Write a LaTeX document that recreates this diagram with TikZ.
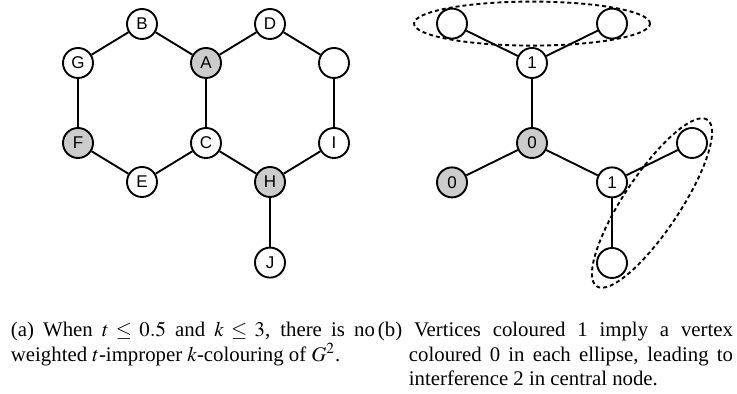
\documentclass[tikz,border=0pt]{standalone}
\usepackage{mathptmx}
\usepackage{fontspec}
\setmainfont{Liberation Serif}
\setsansfont{Liberation Sans}
\usetikzlibrary{positioning,calc}
\setlength{\parindent}{0pt}

\begin{document}
\begin{tikzpicture}[x=0.5pt, y=0.5pt, line width=0.95pt, on grid,
  nd/.style={circle,draw,minimum size=15pt,inner sep=0pt,font=\sffamily\fontsize{8.5}{9}\selectfont},
  sel/.style={nd,fill=gray!40},
  grp/.style={draw,dash pattern=on 2pt off 1.5pt},
  captxt/.style={anchor=north west,inner sep=0pt,align=justify,font=\fontsize{10.4}{12.4}\selectfont}]
  \useasboundingbox (0,0) rectangle (737,394);
  % left: the graph G
  \node[nd] (G) at (78,331) {G};
  \node[nd, above right=19.5pt and 32pt of G] (B) {B};
  \node[sel, below right=19.5pt and 32pt of B] (A) {A};
  \node[nd, above right=19.5pt and 32pt of A] (D) {D};
  \node[nd, below right=19.5pt and 32pt of D] (X) {};
  \node[sel, below=40pt of G] (F) {F};
  \node[nd, below=40pt of A] (C) {C};
  \node[nd, below=40pt of X] (I) {I};
  \node[nd, below right=19.5pt and 32pt of F] (E) {E};
  \node[sel, below right=19.5pt and 32pt of C] (H) {H};
  \node[nd, below=40.3pt of H] (J) {J};
  \draw (G) -- (B) -- (A) -- (D) -- (X) -- (I) -- (H) -- (C) -- (E) -- (F) -- (G);
  \draw (A) -- (C);
  \draw (H) -- (J);
  % right: the colouring
  \node[sel] (c0) at (532,251) {0};
  \node[nd, above=40pt of c0] (t1) {1};
  \node[nd, above left=19.7pt and 40pt of t1] (tl) {};
  \node[nd, above right=19.7pt and 40pt of t1] (tr) {};
  \node[sel, below left=19.7pt and 40pt of c0] (l0) {0};
  \node[nd, below right=19.7pt and 40pt of c0] (r1) {1};
  \node[nd, above right=19.7pt and 40pt of r1] (rr) {};
  \node[nd, below=40.3pt of r1] (rb) {};
  \draw (tl) -- (t1) -- (tr);
  \draw (t1) -- (c0) -- (l0);
  \draw (c0) -- (r1) -- (rr);
  \draw (r1) -- (rb);
  \coordinate (mt) at ($(tl)!0.5!(tr)$);
  \coordinate (mb) at ($(rr)!0.5!(rb)$);
  \draw[grp] (mt) ellipse [x radius=118, y radius=22];
  \draw[grp, rotate around={56.4:(mb)}] (mb) ellipse [x radius=100, y radius=28];
  % captions
  \node[captxt, text width=182pt] (capa) at (10,73)
    {(a) When $t\leq 0.5$ and $k\leq 3$, there is no weighted $t$-improper $k$-colouring of $G^2$.};
  \node[captxt] (capb) at (377,73)
    {\parbox[t]{177.5pt}{\hangindent=15.5pt\hangafter=1 (b) Vertices coloured 1 imply a vertex\linebreak
     coloured 0 in each ellipse, leading to\linebreak interference 2 in central node.}};
\end{tikzpicture}
\end{document}
